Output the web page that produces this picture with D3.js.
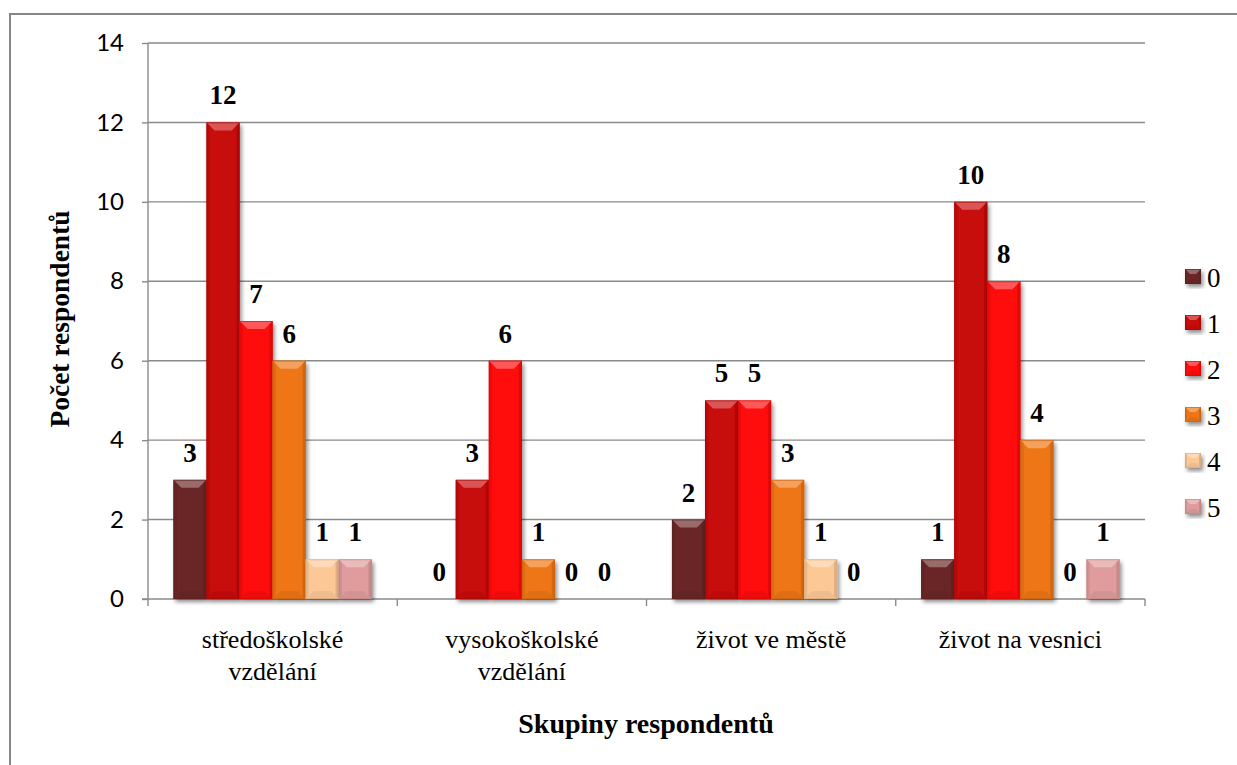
<!DOCTYPE html>
<html><head><meta charset="utf-8">
<script src="https://cdn.jsdelivr.net/npm/d3@7/dist/d3.min.js"></script>
<style>body{margin:0;background:#fff}svg{display:block}
.serif{font-family:"Liberation Serif","Times New Roman","DejaVu Serif",serif}
.sans{font-family:Lato,"Open Sans",sans-serif}
</style>
</head><body>
<svg id="chart" width="1237" height="765"></svg>
<script>
const categories = [["středoškolské","vzdělání"],["vysokoškolské","vzdělání"],["život ve městě"],["život na vesnici"]];
const seriesNames = ["0","1","2","3","4","5"];
const values0 = [3,0,2,1];
const values1 = [12,3,5,10];
const values2 = [7,6,5,8];
const values3 = [6,1,3,4];
const values4 = [1,0,1,0];
const values5 = [1,0,0,1];
const yTicks = [0,2,4,6,8,10,12,14];
const colors = ["#6a2828","#c80808","#ff0a0a","#ee7612","#fcc896","#e09c9c"];

const series = [values0,values1,values2,values3,values4,values5];
const svg = d3.select("#chart");
const m={left:148,right:1145,top:43,bottom:599};

svg.append("rect").attr("x",10).attr("y",14).attr("width",1400).attr("height",900)
  .attr("fill","#fff").attr("stroke","#868686").attr("stroke-width",2);

const defs=svg.append("defs");
const f=defs.append("filter").attr("id","sh").attr("x","-20%").attr("y","-20%").attr("width","150%").attr("height","150%");
f.append("feGaussianBlur").attr("in","SourceAlpha").attr("stdDeviation",2);
f.append("feOffset").attr("dx",2).attr("dy",3).attr("result","b");
f.append("feComponentTransfer").append("feFuncA").attr("type","linear").attr("slope",0.45);
const mg=f.append("feMerge");mg.append("feMergeNode");mg.append("feMergeNode").attr("in","SourceGraphic");

const y=d3.scaleLinear().domain([0,14]).range([m.bottom,m.top]);
const x0=d3.scaleBand().domain(d3.range(categories.length)).range([m.left,m.right]).paddingInner(0).paddingOuter(0);
const x1=d3.scaleBand().domain(d3.range(seriesNames.length)).range([0,x0.bandwidth()]).paddingOuter(0.77).paddingInner(0);

svg.append("g").selectAll("line").data(yTicks.filter(d=>d>0)).join("line")
  .attr("x1",m.left).attr("x2",m.right).attr("y1",d=>y(d)).attr("y2",d=>y(d))
  .attr("stroke","#8a8a8a").attr("stroke-width",1.4);

const ya=svg.append("g").attr("transform",`translate(${m.left},0)`).call(d3.axisLeft(y).tickValues(yTicks).tickSize(6).tickPadding(18));
ya.selectAll("path,line").attr("stroke","#8a8a8a").attr("stroke-width",1.4);
ya.select(".domain").attr("d",`M0,${m.top}V${m.bottom}`);
ya.selectAll("text").attr("class","sans").style("font-size","24px").attr("fill","#000");
ya.attr("font-family",null).attr("font-size",null);

const xa=svg.append("g").attr("transform",`translate(0,${m.bottom})`);
xa.append("line").attr("x1",m.left-6).attr("x2",m.right).attr("stroke","#8a8a8a").attr("stroke-width",1.4);
const bounds=d3.range(categories.length+1).map(i=>i<categories.length?x0(i):m.right);
xa.selectAll("line.t").data(bounds).join("line").attr("class","t").attr("x1",d=>d).attr("x2",d=>d).attr("y1",0).attr("y2",7)
  .attr("stroke","#8a8a8a").attr("stroke-width",1.4);
categories.forEach((lines,i)=>{
  const t=xa.append("text").attr("class","serif").attr("text-anchor","middle").style("font-size","26px").attr("fill","#000");
  lines.forEach((l,j)=>t.append("tspan").attr("x",x0(i)+x0.bandwidth()/2).attr("y",49+j*32).text(l));
});

const bars=svg.append("g");
function bevelBar(g,bx,by,bw,bh,col,bmax){
  if(bh<=0) return;
  const c=d3.color(col);
  const gg=g.append("g");
  gg.append("rect").attr("x",bx).attr("y",by).attr("width",bw).attr("height",bh).attr("fill",col).attr("filter","url(#sh)");
  const b=Math.min(bmax,bw/2,bh/2);
  const light=d3.interpolateRgb(col,"#fff")(0.35);
  const dark=c.darker(0.5).toString();
  const darker=c.darker(0.35).toString();
  gg.append("path").attr("d",`M${bx},${by}L${bx+bw},${by}L${bx+bw-b},${by+b}L${bx+b},${by+b}Z`).attr("fill",light).attr("opacity",0.9);
  gg.append("path").attr("d",`M${bx},${by}L${bx+b*0.4},${by+b*0.4}L${bx+b*0.4},${by+bh-b*0.4}L${bx},${by+bh}Z`).attr("fill",darker).attr("opacity",0.6);
  gg.append("path").attr("d",`M${bx+bw},${by}L${bx+bw-b*0.4},${by+b*0.4}L${bx+bw-b*0.4},${by+bh-b*0.4}L${bx+bw},${by+bh}Z`).attr("fill",dark).attr("opacity",0.7);
  gg.append("path").attr("d",`M${bx},${by+bh}L${bx+bw},${by+bh}L${bx+bw-b},${by+bh-b}L${bx+b},${by+bh-b}Z`).attr("fill",dark).attr("opacity",0.35);
  gg.append("rect").attr("x",bx+0.5).attr("y",by+0.5).attr("width",bw-1).attr("height",bh-1).attr("fill","none").attr("stroke",dark).attr("stroke-width",1).attr("opacity",0.6);
}
categories.forEach((cat,i)=>{
  series.forEach((vals,s)=>{
    const v=vals[i];
    bevelBar(bars,x0(i)+x1(s),y(v),x1.bandwidth(),y(0)-y(v),colors[s],8);
  });
});
categories.forEach((cat,i)=>{
  series.forEach((vals,s)=>{
    const v=vals[i];
    svg.append("text").attr("class","serif").attr("x",x0(i)+x1(s)+x1.bandwidth()/2).attr("y",y(v)-18)
      .attr("text-anchor","middle").style("font-weight","bold").style("font-size","27px").attr("fill","#000").text(v);
  });
});

svg.append("text").attr("class","serif").attr("transform",`translate(69,${(m.top+m.bottom)/2-2}) rotate(-90)`).attr("text-anchor","middle")
  .style("font-weight","bold").style("font-size","27.5px").text("Počet respondentů");
svg.append("text").attr("class","serif").attr("x",646).attr("y",733).attr("text-anchor","middle")
  .style("font-weight","bold").style("font-size","28px").text("Skupiny respondentů");

const lg=svg.append("g");
seriesNames.forEach((n,s)=>{
  const ly=277+s*46;
  bevelBar(lg,1185,ly-8,16,15,colors[s],5);
  lg.append("text").attr("class","serif").attr("x",1207).attr("y",ly+10).style("font-size","27px").text(n);
});
</script>
</body></html>
